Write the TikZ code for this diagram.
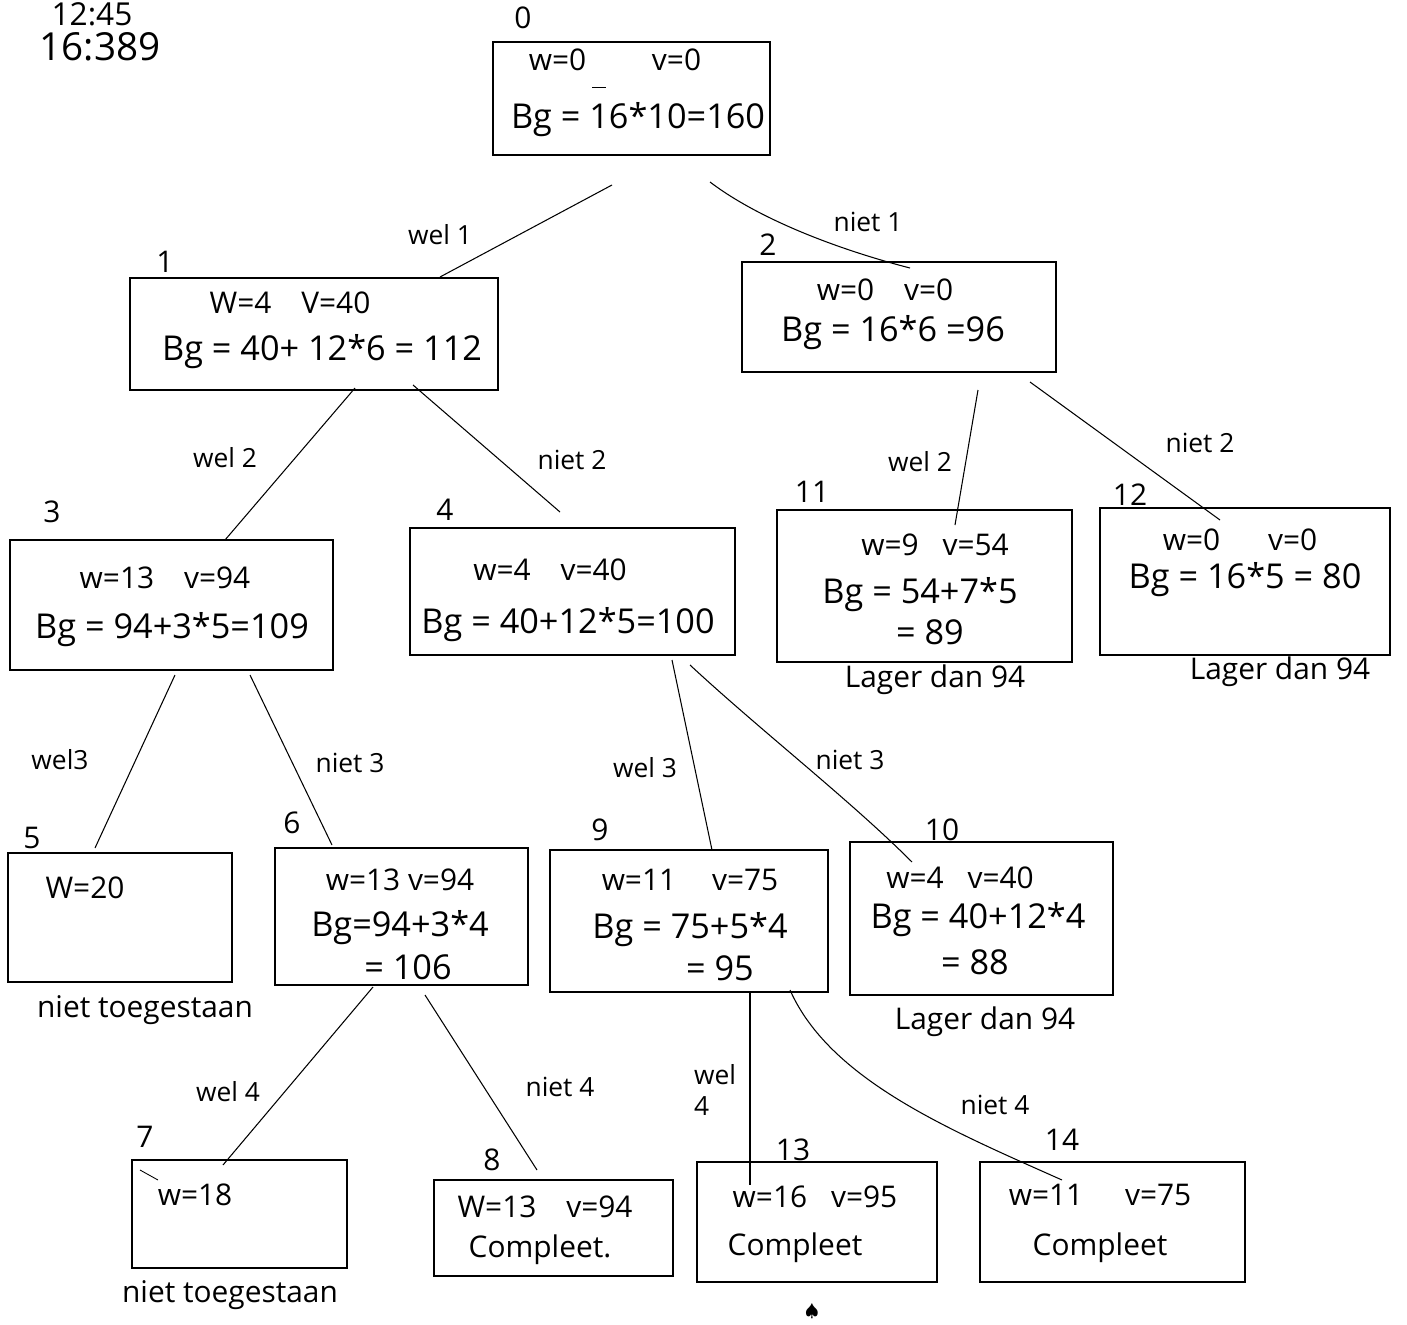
\documentclass[tikz,border=0pt]{standalone}
\usepackage{fontspec}
\setmainfont{Open Sans}
\begin{document}
\begin{tikzpicture}[x=0.02cm,y=-0.02cm,
  box/.style={draw,line width=1pt,inner sep=0pt},
  num/.style={font=\fontsize{17}{20}\selectfont},
  wv/.style={font=\fontsize{17}{20}\selectfont},
  bg/.style={font=\fontsize{19.5}{24}\selectfont},
  elab/.style={font=\fontsize{15}{18}\selectfont},
  note/.style={font=\fontsize{17}{20}\selectfont},
  edge/.style={line width=0.6pt},
  stray/.style={line width=0.5pt}]
\useasboundingbox (0,0) rectangle (1407,1325);

% top-left notes
\node[font=\fontsize{18}{22}\selectfont] (t1) at (92,14) {12:45};
\node[font=\fontsize{22}{26}\selectfont] (t2) at (100,47) {16:389};

% boxes
\node[box,minimum width=5.54cm,minimum height=2.26cm] (n0) at (631.5,98.5) {};
\node[box,minimum width=7.36cm,minimum height=2.24cm] (n1) at (314,334) {};
\node[box,minimum width=6.28cm,minimum height=2.2cm] (n2) at (899,317) {};
\node[box,minimum width=6.46cm,minimum height=2.6cm] (n3) at (171.5,605) {};
\node[box,minimum width=6.5cm,minimum height=2.54cm] (n4) at (572.5,591.5) {};
\node[box,minimum width=5.9cm,minimum height=3.04cm] (n11) at (924.5,586) {};
\node[box,minimum width=5.8cm,minimum height=2.94cm] (n12) at (1245,581.5) {};
\node[box,minimum width=4.48cm,minimum height=2.58cm] (n5) at (120,917.5) {};
\node[box,minimum width=5.06cm,minimum height=2.74cm] (n6) at (401.5,916.5) {};
\node[box,minimum width=5.56cm,minimum height=2.84cm] (n9) at (689,921) {};
\node[box,minimum width=5.26cm,minimum height=3.06cm] (n10) at (981.5,918.5) {};
\node[box,minimum width=4.3cm,minimum height=2.16cm] (n7) at (239.5,1214) {};
\node[box,minimum width=4.78cm,minimum height=1.92cm] (n8) at (553.5,1228) {};
\node[box,minimum width=4.8cm,minimum height=2.4cm] (n13) at (817,1222) {};
\node[box,minimum width=5.3cm,minimum height=2.4cm] (n14) at (1112.5,1222) {};

% number labels
\node[num] (l0) at (523,18) {0};
\node[num] (l1) at (165,262) {1};
\node[num] (l2) at (768,245) {2};
\node[num] (l3) at (52,512) {3};
\node[num] (l4) at (445,510) {4};
\node[num] (l11) at (812,492) {11};
\node[num] (l12) at (1130,495) {12};
\node[num] (l5) at (32,838) {5};
\node[num] (l6) at (292,823) {6};
\node[num] (l9) at (600,830) {9};
\node[num] (l10) at (942,830) {10};
\node[num] (l7) at (145,1137) {7};
\node[num] (l8) at (492,1160) {8};
\node[num] (l13) at (793,1150) {13};
\node[num] (l14) at (1062,1140) {14};

% box contents
\node[wv] (a0) at (615,60) {w=0\hspace{2.2em}v=0};
\node[bg] (b0) at (638,120) {Bg = 16*10=160};
\node[wv] (a1) at (290,303) {W=4\hspace{1em}V=40};
\node[bg] (b1) at (322,352) {Bg = 40+ 12*6 = 112};
\node[wv] (a2) at (885,290) {w=0\hspace{1em}v=0};
\node[bg] (b2) at (893,333) {Bg = 16*6 =96};
\node[wv] (a3) at (165,578) {w=13\hspace{1em}v=94};
\node[bg] (b3) at (172,630) {Bg = 94+3*5=109};
\node[wv] (a4) at (550,570) {w=4\hspace{1em}v=40};
\node[bg] (b4) at (568,625) {Bg = 40+12*5=100};
\node[wv] (a11) at (935,545) {w=9\hspace{0.8em}v=54};
\node[bg] (b11) at (920,595) {Bg = 54+7*5};
\node[bg] (c11) at (930,632) {= 89};
\node[wv] (a12) at (1240,540) {w=0\hspace{1.6em}v=0};
\node[bg] (b12) at (1245,580) {Bg = 16*5 = 80};
\node[wv] (a5) at (85,888) {W=20};
\node[wv] (a6) at (400,880) {w=13 v=94};
\node[bg] (b6) at (400,928) {Bg=94+3*4};
\node[bg] (c6) at (408,967) {= 106};
\node[wv] (a9) at (690,880) {w=11\hspace{1.2em}v=75};
\node[bg] (b9) at (690,930) {Bg = 75+5*4};
\node[bg] (c9) at (720,968) {= 95};
\node[wv] (a10) at (960,878) {w=4\hspace{0.8em}v=40};
\node[bg] (b10) at (978,920) {Bg = 40+12*4};
\node[bg] (c10) at (975,962) {= 88};
\node[wv] (a7) at (195,1195) {w=18};
\node[wv] (a8) at (545,1207) {W=13\hspace{1em}v=94};
\node[wv] (b8) at (540,1250) {Compleet.};
\node[wv] (a13) at (815,1197) {w=16\hspace{0.8em}v=95};
\node[wv] (b13) at (795,1248) {Compleet};
\node[wv] (a14) at (1100,1195) {w=11\hspace{1.4em}v=75};
\node[wv] (b14) at (1100,1248) {Compleet};

% notes under boxes
\node[note] (m11) at (935,680) {Lager dan 94};
\node[note] (m12) at (1280,672) {Lager dan 94};
\node[note] (m10) at (985,1022) {Lager dan 94};
\node[note] (m5) at (145,1010) {niet toegestaan};
\node[note] (m7) at (230,1295) {niet toegestaan};

% connector end points
\coordinate (s01) at (612,185);  \coordinate (e01) at (440,277);
\coordinate (s02) at (710,182);  \coordinate (e02) at (910,268);
\coordinate (s13) at (355,388);  \coordinate (e13) at (225,540);
\coordinate (s14) at (413,385);  \coordinate (e14) at (560,512);
\coordinate (s211) at (978,390); \coordinate (e211) at (955,525);
\coordinate (s212) at (1030,382);\coordinate (e212) at (1220,520);
\coordinate (s35) at (175,675);  \coordinate (e35) at (95,848);
\coordinate (s36) at (250,675);  \coordinate (e36) at (332,845);
\coordinate (s49) at (672,660);  \coordinate (e49) at (712,850);
\coordinate (s410) at (690,665); \coordinate (e410) at (912,862);
\coordinate (s67) at (373,987);  \coordinate (e67) at (223,1165);
\coordinate (s68) at (425,995);  \coordinate (e68) at (537,1170);
\coordinate (s913) at (750,992); \coordinate (e913) at (750,1185);
\coordinate (s914) at (790,990); \coordinate (e914) at (1062,1180);

% connectors
\draw[edge] (s01) -- (e01);
\draw[edge] (s02) .. controls (760,220) and (840,250) .. (e02);
\draw[edge] (s13) -- (e13);
\draw[edge] (s14) -- (e14);
\draw[edge] (s211) -- (e211);
\draw[edge] (s212) -- (e212);
\draw[edge] (s35) -- (e35);
\draw[edge] (s36) -- (e36);
\draw[edge] (s49) -- (e49);
\draw[edge] (s410) .. controls (760,730) and (850,800) .. (e410);
\draw[edge] (s67) -- (e67);
\draw[edge] (s68) -- (e68);
\draw[edge] (s913) -- (e913);
\draw[edge] (s914) .. controls (830,1080) and (950,1130) .. (e914);

% connector labels
\node[elab] (w1) at (440,235) {wel 1};
\node[elab] (x1) at (868,222) {niet 1};
\node[elab] (w2a) at (225,458) {wel 2};
\node[elab] (x2a) at (572,460) {niet 2};
\node[elab] (w2b) at (920,462) {wel 2};
\node[elab] (x2b) at (1200,443) {niet 2};
\node[elab] (w3a) at (60,760) {wel3};
\node[elab] (x3a) at (350,763) {niet 3};
\node[elab] (w3b) at (645,768) {wel 3};
\node[elab] (x3b) at (850,760) {niet 3};
\node[elab] (w4a) at (228,1092) {wel 4};
\node[elab] (x4a) at (560,1087) {niet 4};
\node[elab,align=left] (w4b) at (715,1090) {wel\\4};
\node[elab] (x4b) at (995,1105) {niet 4};

% stray marks
\draw[stray] (592,87) -- (606,87);
\draw[stray] (140,1170) -- (158,1180);
\node[font=\fontsize{10}{12}\selectfont] (sp) at (812,1312) {$\spadesuit$};
\end{tikzpicture}
\end{document}
